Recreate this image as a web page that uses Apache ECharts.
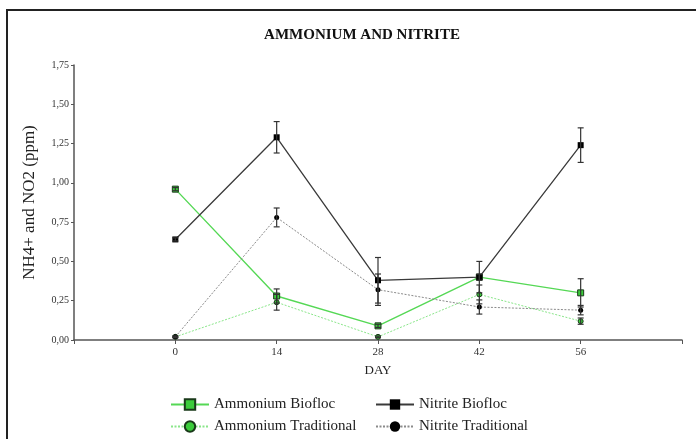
<!DOCTYPE html>
<html>
<head>
<meta charset="utf-8">
<script src="https://cdn.jsdelivr.net/npm/echarts@6/dist/echarts.min.js"></script>
<style>
  html, body { margin: 0; padding: 0; background: #fff; }
  #chart { width: 696px; height: 439px; }
</style>
</head>
<body>
<div id="chart"></div>
<script>
// Sampling days
const days = [0, 14, 28, 42, 56];
const xTicks = [0, 14, 28, 42, 56];

// Mean concentrations (ppm) and their error bars
const ammoniumBiofloc = [0.96, 0.28, 0.09, 0.40, 0.30];
const ammoniumBioflocErr = [0.01, 0.045, 0.01, 0.02, 0.09];
const ammoniumTraditional = [0.02, 0.24, 0.02, 0.29, 0.12];
const ammoniumTraditionalErr = [0.005, 0.05, 0.005, 0.06, 0.02];
const nitriteBiofloc = [0.64, 1.29, 0.38, 0.40, 1.24];
const nitriteBioflocErr = [0.01, 0.10, 0.145, 0.10, 0.11];
const nitriteTraditional = [0.02, 0.78, 0.32, 0.21, 0.19];
const nitriteTraditionalErr = [0.005, 0.06, 0.10, 0.045, 0.03];

const SERIF = '"Liberation Serif", "Times New Roman", serif';

function pairs(vals) {
  return days.map((d, i) => [d, vals[i]]);
}
function errData(vals, errs) {
  return days.map((d, i) => [d, vals[i] - errs[i], vals[i] + errs[i]]);
}

// Vertical error bar with small caps
function renderErr(params, api) {
  const x = api.value(0);
  const lo = api.coord([x, api.value(1)]);
  const hi = api.coord([x, api.value(2)]);
  const cap = 3;
  const style = { stroke: '#333', lineWidth: 1.2 };
  return {
    type: 'group',
    children: [
      { type: 'line', shape: { x1: lo[0], y1: lo[1], x2: hi[0], y2: hi[1] }, style },
      { type: 'line', shape: { x1: hi[0] - cap, y1: hi[1], x2: hi[0] + cap, y2: hi[1] }, style },
      { type: 'line', shape: { x1: lo[0] - cap, y1: lo[1], x2: lo[0] + cap, y2: lo[1] }, style }
    ]
  };
}

function errSeries(vals, errs) {
  return {
    type: 'custom',
    renderItem: renderErr,
    data: errData(vals, errs),
    encode: { x: 0, y: [1, 2] },
    z: 5,
    silent: true
  };
}

function legendItem(name, left, top) {
  return {
    left: left, top: top,
    itemWidth: 38, itemHeight: 13, itemGap: 0,
    textStyle: { fontFamily: SERIF, fontSize: 15, color: '#222' },
    data: [name]
  };
}

const chart = echarts.init(document.getElementById('chart'), null, { renderer: 'canvas' });

chart.setOption({
  animation: false,
  backgroundColor: '#fff',
  title: {
    text: 'AMMONIUM AND NITRITE',
    left: 357,
    textAlign: 'center',
    top: 23,
    textStyle: { fontFamily: SERIF, fontSize: 15, fontWeight: 'bold', color: '#111' }
  },
  graphic: [{
    type: 'rect',
    shape: { x: 7, y: 10, width: 720, height: 460 },
    style: { fill: 'none', stroke: '#222', lineWidth: 2 },
    silent: true
  }],
  grid: { left: 74, right: 14, top: 65, bottom: 99, containLabel: false },
  xAxis: {
    type: 'value',
    min: -14,
    max: 70,
    interval: 14,
    name: 'DAY',
    nameLocation: 'middle',
    nameGap: 24,
    nameTextStyle: { fontFamily: SERIF, fontSize: 13, color: '#222' },
    axisLine: { onZero: false, lineStyle: { color: '#555', width: 1.5 } },
    axisTick: { show: true, length: 4, lineStyle: { color: '#555' } },
    axisLabel: {
      fontFamily: SERIF, fontSize: 11, color: '#333', margin: 7,
      formatter: v => (xTicks.indexOf(v) >= 0 ? String(v) : '')
    },
    splitLine: { show: false }
  },
  yAxis: {
    type: 'value',
    min: 0,
    max: 1.75,
    interval: 0.25,
    name: 'NH4+ and NO2 (ppm)',
    nameLocation: 'middle',
    nameGap: 36,
    nameTextStyle: { fontFamily: SERIF, fontSize: 17, color: '#222' },
    axisLine: { show: true, onZero: false, lineStyle: { color: '#555', width: 1.5 } },
    axisTick: { show: true, length: 3, lineStyle: { color: '#555' } },
    axisLabel: {
      fontFamily: SERIF, fontSize: 10, color: '#333', margin: 5,
      formatter: v => v.toFixed(2).replace('.', ',')
    },
    splitLine: { show: false }
  },
  legend: [
    legendItem('Ammonium Biofloc', 165, 392),
    legendItem('Ammonium Traditional', 165, 414),
    legendItem('Nitrite Biofloc', 370, 392),
    legendItem('Nitrite Traditional', 370, 414)
  ],
  series: [
    {
      name: 'Ammonium Biofloc', type: 'line', data: pairs(ammoniumBiofloc),
      symbol: 'rect', symbolSize: 6,
      lineStyle: { color: '#55d855', width: 1.4 },
      itemStyle: { color: '#3bcc3b', borderColor: '#1a3a1a', borderWidth: 1 },
      z: 3
    },
    {
      name: 'Ammonium Traditional', type: 'line', data: pairs(ammoniumTraditional),
      symbol: 'circle', symbolSize: 5,
      lineStyle: { color: '#8ae68a', width: 1, type: [2, 1.5] },
      itemStyle: { color: '#3bcc3b', borderColor: '#1a3a1a', borderWidth: 1 },
      z: 3
    },
    {
      name: 'Nitrite Biofloc', type: 'line', data: pairs(nitriteBiofloc),
      symbol: 'rect', symbolSize: 6,
      lineStyle: { color: '#3a3a3a', width: 1.3 },
      itemStyle: { color: '#000' },
      z: 4
    },
    {
      name: 'Nitrite Traditional', type: 'line', data: pairs(nitriteTraditional),
      symbol: 'circle', symbolSize: 5,
      lineStyle: { color: '#8a8a8a', width: 1, type: [2, 1.5] },
      itemStyle: { color: '#000' },
      z: 4
    },
    errSeries(ammoniumBiofloc, ammoniumBioflocErr),
    errSeries(ammoniumTraditional, ammoniumTraditionalErr),
    errSeries(nitriteBiofloc, nitriteBioflocErr),
    errSeries(nitriteTraditional, nitriteTraditionalErr)
  ]
});
</script>
</body>
</html>
